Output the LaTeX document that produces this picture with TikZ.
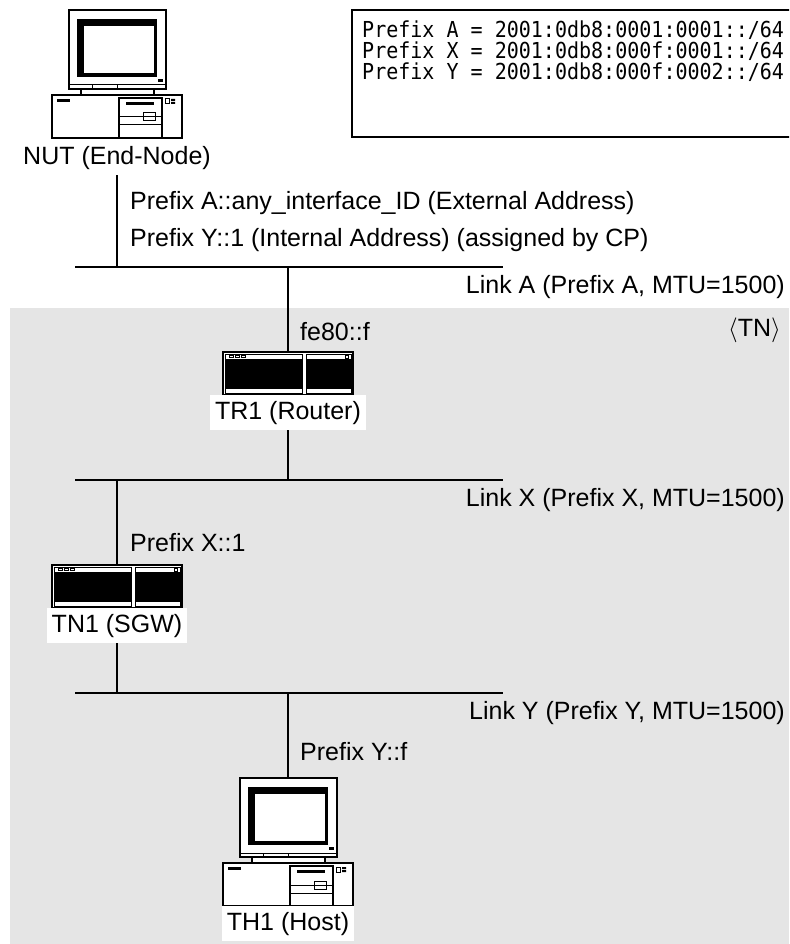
\documentclass[tikz,border=0pt]{standalone}
\usepackage{fontspec}
\setmainfont{Liberation Sans}
\newfontfamily\prefixfont{DejaVu Sans Mono}[FakeStretch=0.91]
\usetikzlibrary{positioning}
\definecolor{tngray}{RGB}{229,229,229}
\tikzset{
  pc/.pic={
    \coordinate (-top) at (0,0);
    \draw[line width=2, fill=white] (-48,0) rectangle (49,79);
    \fill (-40,9) rectangle (40,67);
    \fill[white] (-33,16) rectangle (37,63);
    \fill (41,69) rectangle (46,72);
    \draw[line width=1] (-48,75) -- (49,75) (-25,75) -- (-25,79) (0,75) -- (0,79);
    \draw[line width=1.5, fill=white] (-36,79) rectangle (37,85);
    \draw[line width=2, fill=white] (-65,85) rectangle (65,128);
    \fill (-60,89) rectangle (-47,92);
    \draw[line width=1.2] (2,88) rectangle (45,128);
    \fill (9,92) rectangle (37,95);
    \draw[line width=1] (2,107) -- (45,107) (2,115) -- (45,115);
    \draw[line width=1] (26,103) rectangle (38,111);
    \draw[line width=1] (48,89) rectangle (52,94);
    \fill (54,89) rectangle (58,91) (54,92) rectangle (58,94);
    \coordinate (-bot) at (0,128);
  },
  router/.pic={
    \coordinate (-top) at (0,0);
    \draw[line width=2, fill=white] (-65,0) rectangle (65,43);
    \foreach \a/\b in {-63/14, 18/63}{
      \draw[line width=1] (\a,2) rectangle (\b,41);
      \fill (\a,7) rectangle (\b,37);
    }
    \draw[line width=0.8] (-59,3.5) rectangle (-55,5.5) (-53,3.5) rectangle (-49,5.5)
      (-47,3.5) rectangle (-43,5.5) (57,3) rectangle (60,6);
    \coordinate (-bot) at (0,43);
  },
  devlbl/.style={fill=white, inner xsep=5pt, inner ysep=0pt, minimum height=35pt},
  addr/.style={anchor=west, inner sep=0pt},
  linklbl/.style={anchor=east, inner sep=0pt},
  link/.style={line width=1.5pt},
  drop/.style={line width=1.2pt},
}
\begin{document}
\begin{tikzpicture}[x=1pt, y=-1pt, font=\fontsize{25}{30}\selectfont]
  \useasboundingbox (0,0) rectangle (789,944);
  \clip (0,0) rectangle (789,944);
  \fill[tngray] (10,308) rectangle (789,944);

  \draw[line width=2] (352,10) rectangle (795,137);
  \node[anchor=west, align=left, inner sep=0pt,
        font=\prefixfont\fontsize{22}{21}\selectfont] (prefixes) at (362,51)
    {Prefix A = 2001:0db8:0001:0001::/64\\
     Prefix X = 2001:0db8:000f:0001::/64\\
     Prefix Y = 2001:0db8:000f:0002::/64};

  \coordinate (linkA-w) at (75,267);
  \coordinate (linkA-e) at (503,267);
  \coordinate (linkX-w) at (75,480);
  \coordinate (linkX-e) at (503,480);
  \coordinate (linkY-w) at (75,693);
  \coordinate (linkY-e) at (503,693);

  \pic (nut) at (117,10) {pc};
  \node[devlbl, below=2pt of nut-bot] (nut-lbl) {NUT (End-Node)};
  \pic (tr1) at (288,352) {router};
  \node[devlbl, below=0pt of tr1-bot] (tr1-lbl) {TR1 (Router)};
  \pic (tn1) at (117,565) {router};
  \node[devlbl, below=0pt of tn1-bot] (tn1-lbl) {TN1 (SGW)};
  \pic (th1) at (288,778) {pc};
  \node[devlbl, below=0pt of th1-bot] (th1-lbl) {TH1 (Host)};

  \node[addr] (nut-ext) at (130,203) {Prefix A::any\_interface\_ID (External Address)};
  \node[addr] (nut-int) at (130,240) {Prefix Y::1 (Internal Address) (assigned by CP)};
  \node[addr] (tr1-addr) at (300,332) {fe80::f};
  \node[addr] (tn1-addr) at (130,543) {Prefix X::1};
  \node[addr] (th1-addr) at (300,752) {Prefix Y::f};

  \node[linklbl] (linkA-lbl) at (785,287) {Link A (Prefix A, MTU=1500)};
  \node[linklbl] (linkX-lbl) at (785,500) {Link X (Prefix X, MTU=1500)};
  \node[linklbl] (linkY-lbl) at (785,713) {Link Y (Prefix Y, MTU=1500)};
  \node[linklbl] (tn) at (781,330) {$\langle$TN$\rangle$};

  \begin{scope}[link]
    \draw (linkA-w) -- (linkA-e);
    \draw (linkX-w) -- (linkX-e);
    \draw (linkY-w) -- (linkY-e);
  \end{scope}
  \begin{scope}[drop]
    \draw (nut-lbl) -- (nut-lbl |- linkA-w);
    \draw (linkA-w -| tr1-top) -- (tr1-top);
    \draw (tr1-lbl) -- (tr1-lbl |- linkX-w);
    \draw (linkX-w -| tn1-top) -- (tn1-top);
    \draw (tn1-lbl) -- (tn1-lbl |- linkY-w);
    \draw (linkY-w -| th1-top) -- (th1-top);
  \end{scope}
\end{tikzpicture}
\end{document}
